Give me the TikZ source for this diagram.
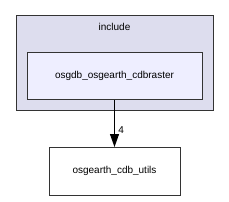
\documentclass[tikz,border=0pt]{standalone}
\usepackage{fontspec}
\setmainfont{Liberation Sans}
\usetikzlibrary{arrows.meta}
\definecolor{clusterfill}{HTML}{DDDDEE}
\definecolor{innerfill}{HTML}{EEEEFF}
\definecolor{edgegray}{HTML}{333333}
\tikzset{
  box/.style={draw=edgegray, line width=1pt, inner sep=0pt, anchor=north west, font=\fontsize{10}{12}\selectfont},
  dep/.style={-{Triangle[length=13pt,width=9pt]}, line width=1pt, black}
}
\begin{document}
\begin{tikzpicture}[x=1pt,y=-1pt]
\useasboundingbox (0,0) rectangle (229,201);
\node[box, fill=clusterfill, minimum width=197pt, minimum height=95pt] (cluster) at (16,15) {};
\node[font=\fontsize{10}{12}\selectfont] (lbl) at (114.5,27) {include};
\node[box, fill=innerfill, minimum width=175pt, minimum height=47pt] (src) at (27,52) {};
\node[font=\fontsize{10}{12}\selectfont] (srct) at (114.5,75.5) {osgdb\_osgearth\_cdbraster};
\node[box, fill=white, minimum width=131pt, minimum height=48pt] (dst) at (49,147) {};
\node[font=\fontsize{10}{12}\selectfont] (dstt) at (114.5,171) {osgearth\_cdb\_utils};
\draw[dep] (src.south -| srct) -- (dst.north -| srct) node[pos=0.65, right=0pt, font=\fontsize{10}{12}\selectfont] (w) {4};
\end{tikzpicture}
\end{document}
